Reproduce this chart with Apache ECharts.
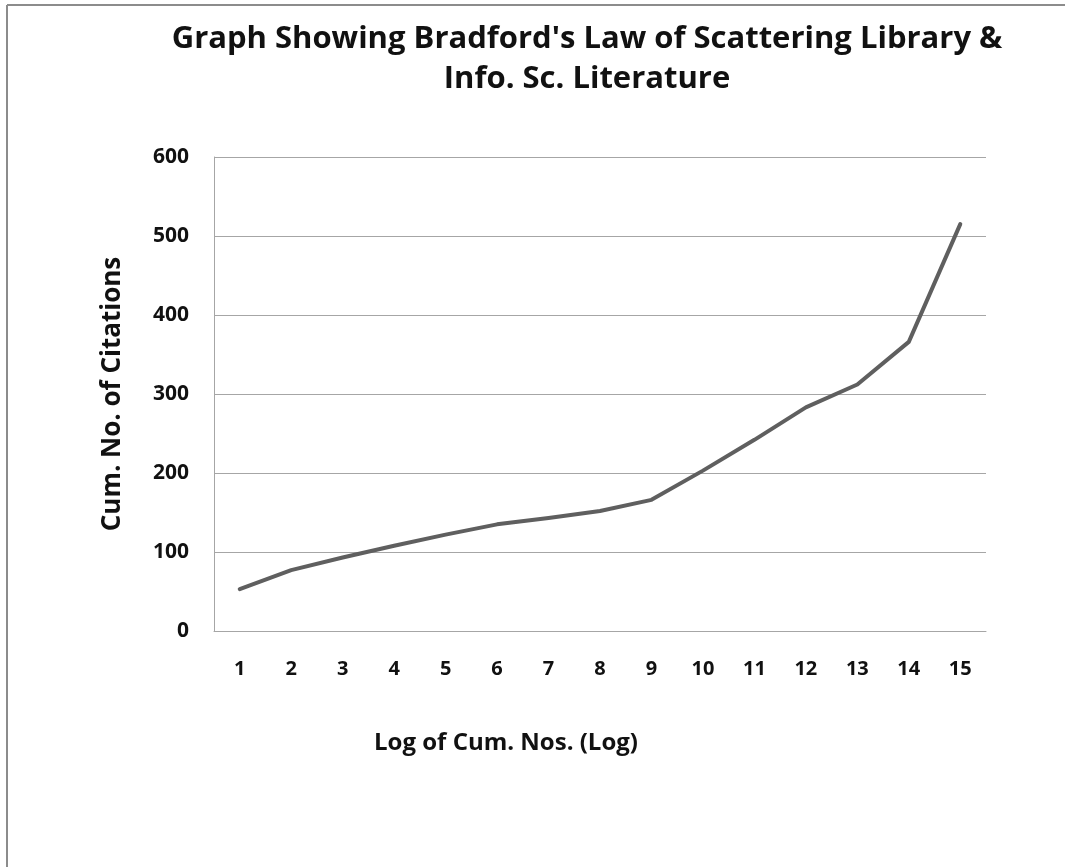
<!DOCTYPE html>
<html>
<head>
<meta charset="utf-8">
<script src="https://cdn.jsdelivr.net/npm/echarts@6/dist/echarts.min.js"></script>
<style>
html,body{margin:0;padding:0;background:#fff;}
#chart{width:1065px;height:867px;}
</style>
</head>
<body>
<div id="chart"></div>
<script>
const titleLines = ["Graph Showing Bradford's Law of Scattering Library &", "Info. Sc. Literature"];
const categories = ["1","2","3","4","5","6","7","8","9","10","11","12","13","14","15"];
const citations = [53, 77, 93, 108, 122, 135, 143, 152, 166, 203, 242, 283, 312, 366, 515];
const yTicks = [0, 100, 200, 300, 400, 500, 600];
const xName = "Log of Cum. Nos. (Log)";
const yName = "Cum. No. of Citations";

const FONT = "'Open Sans', Lato, sans-serif";
const chart = echarts.init(document.getElementById('chart'), null, {renderer: 'canvas'});
chart.setOption({
  backgroundColor: '#ffffff',
  animation: false,
  title: {
    text: titleLines.join('\n'),
    left: 582,
    textAlign: 'center',
    top: 14,
    textStyle: {fontFamily: FONT, fontWeight: 'bold', fontSize: 31, lineHeight: 40, color: '#111'}
  },
  graphic: [
    {type: 'line', shape: {x1: 7, y1: 5, x2: 1065, y2: 5}, style: {stroke: '#8c8c8c', lineWidth: 2}},
    {type: 'line', shape: {x1: 7, y1: 5, x2: 7, y2: 867}, style: {stroke: '#8c8c8c', lineWidth: 2}}
  ],
  grid: {left: 214, right: 79, top: 157, bottom: 236, containLabel: false},
  xAxis: {
    type: 'category',
    data: categories,
    boundaryGap: true,
    axisLine: {show: true, lineStyle: {color: '#a6a6a6', width: 1}},
    axisTick: {show: false},
    axisLabel: {fontFamily: FONT, fontWeight: 'bold', fontSize: 20, color: '#111', margin: 28},
    name: xName,
    nameLocation: 'middle',
    nameGap: 100,
    nameTextStyle: {fontFamily: FONT, fontWeight: 'bold', fontSize: 24, color: '#111', padding: [0, 188, 0, 0]}
  },
  yAxis: {
    type: 'value',
    min: yTicks[0],
    max: yTicks[yTicks.length - 1],
    interval: yTicks[1] - yTicks[0],
    axisLine: {show: true, lineStyle: {color: '#a6a6a6', width: 1}},
    axisTick: {show: false},
    splitLine: {show: true, lineStyle: {color: '#a6a6a6', width: 1}},
    axisLabel: {fontFamily: FONT, fontWeight: 'bold', fontSize: 21, color: '#111', margin: 25},
    name: yName,
    nameLocation: 'middle',
    nameGap: 88,
    nameTextStyle: {fontFamily: FONT, fontWeight: 'bold', fontSize: 26, color: '#111'}
  },
  series: [{
    type: 'line',
    data: citations,
    symbol: 'none',
    lineStyle: {color: '#5f5f5f', width: 4, cap: 'round', join: 'round'}
  }]
});
</script>
</body>
</html>
